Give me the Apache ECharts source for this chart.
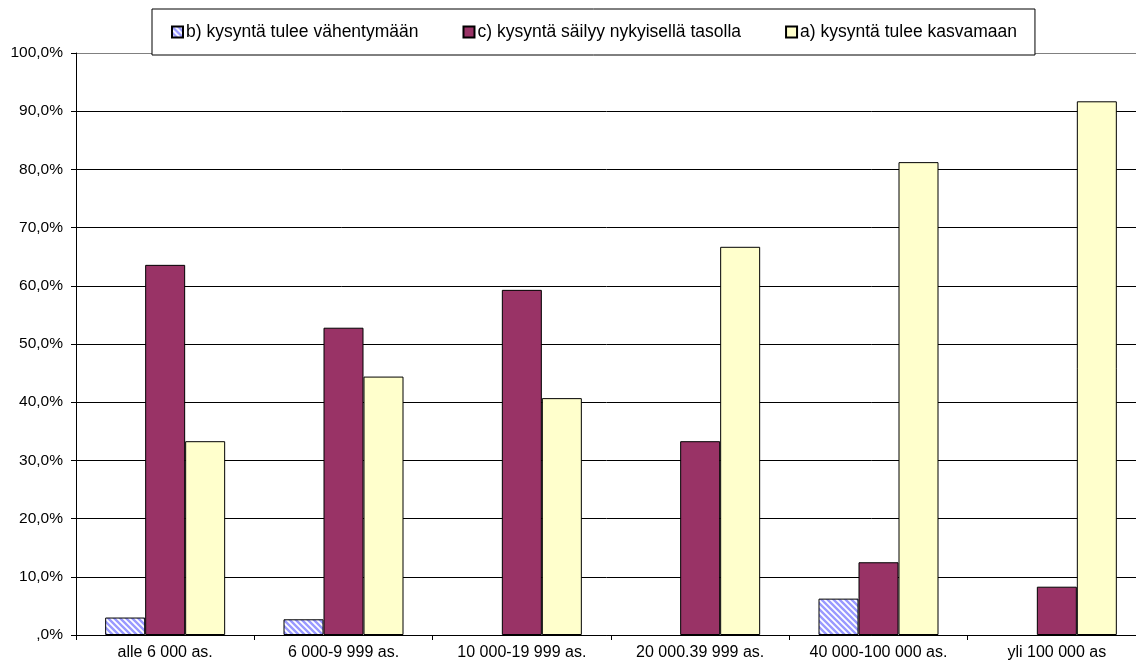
<!DOCTYPE html>
<html><head><meta charset="utf-8">
<script src="https://cdn.jsdelivr.net/npm/echarts@6/dist/echarts.min.js"></script>
<style>html,body{margin:0;padding:0;background:#fff}#c{width:1136px;height:670px}</style>
</head><body><div id="c"></div>
<script>
const categories = ['alle 6 000 as.', '6 000-9 999 as.', '10 000-19 999 as.', '20 000.39 999 as.', '40 000-100 000 as.', 'yli 100 000 as'];
const seriesNames = ['b) kysyntä tulee vähentymään', 'c) kysyntä säilyy nykyisellä tasolla', 'a) kysyntä tulee kasvamaan'];
const valuesB = [3.0, 2.7, 0, 0, 6.25, 0];
const valuesC = [63.6, 52.8, 59.3, 33.3, 12.5, 8.3];
const valuesA = [33.3, 44.4, 40.7, 66.7, 81.25, 91.7];

function hatch() {
  const s = 6;
  const cv = document.createElement('canvas');
  cv.width = s; cv.height = s;
  const g = cv.getContext('2d');
  g.fillStyle = '#ffffff'; g.fillRect(0, 0, s, s);
  g.strokeStyle = '#9999ff'; g.lineWidth = 2.4;
  g.beginPath();
  g.moveTo(0, 0); g.lineTo(s, s);
  g.moveTo(-s, 0); g.lineTo(s, 2 * s);
  g.moveTo(0, -s); g.lineTo(2 * s, s);
  g.stroke();
  return cv;
}
const nz = arr => arr.map(v => (v === 0 ? null : v));
const gridColors = ['#000', '#000', '#000', '#000', '#000', '#000', '#000', '#000', '#000', '#000', '#808080'];

const chart = echarts.init(document.getElementById('c'), null, {renderer: 'canvas'});
const font = 'Liberation Sans, Arial, sans-serif';
const common = {type: 'bar', barWidth: 40, barGap: '0%', animation: false};
chart.setOption({
  animation: false,
  textStyle: {fontFamily: font},
  legend: {
    left: 152, top: 9,
    padding: [14, 18, 14, 19],
    borderColor: '#000', borderWidth: 1, backgroundColor: '#fff',
    itemWidth: 11, itemHeight: 11, itemGap: 44, icon: 'rect',
    textStyle: {fontSize: 17.5, lineHeight: 18, color: '#000', fontFamily: font, padding: [0, 0, 0, -2]},
    data: seriesNames
  },
  grid: {left: 76, width: 1070, top: 53, height: 582, containLabel: false, outerBoundsMode: 'none'},
  xAxis: {
    type: 'category', data: categories,
    axisLine: {lineStyle: {color: '#000'}},
    axisTick: {show: true, length: 5, lineStyle: {color: '#000'}},
    axisLabel: {color: '#000', fontSize: 16, margin: 10, fontFamily: font, interval: 0, hideOverlap: false}
  },
  yAxis: {
    type: 'value', min: 0, max: 100, interval: 10,
    axisLine: {show: true, lineStyle: {color: '#000'}},
    axisTick: {show: true, length: 5, lineStyle: {color: '#000'}},
    splitLine: {lineStyle: {color: gridColors, width: 1}},
    axisLabel: {color: '#000', fontSize: 15.5, margin: 13, fontFamily: font,
      formatter: v => (v === 0 ? '' : v.toFixed(0)) + ',0%'}
  },
  series: [
    Object.assign({name: seriesNames[0], data: nz(valuesB),
      itemStyle: {color: {image: hatch(), repeat: 'repeat'}, borderColor: '#000', borderWidth: 1}}, common),
    Object.assign({name: seriesNames[1], data: nz(valuesC),
      itemStyle: {color: '#993366', borderColor: '#000', borderWidth: 1}}, common),
    Object.assign({name: seriesNames[2], data: nz(valuesA),
      itemStyle: {color: '#ffffcc', borderColor: '#000', borderWidth: 1}}, common)
  ]
});
</script></body></html>
